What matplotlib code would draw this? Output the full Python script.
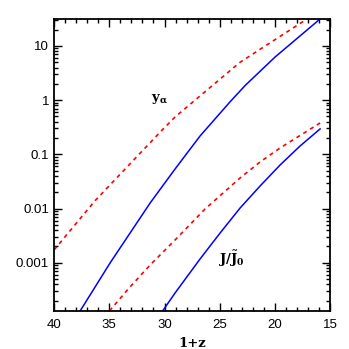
import matplotlib
matplotlib.use('Agg')
import matplotlib.pyplot as plt
import numpy as np
from matplotlib.ticker import MultipleLocator, LogLocator, NullFormatter, FixedLocator, FixedFormatter

# values: 1+z and log10 of the plotted quantity
z_ya_red = [40.0, 36.29, 31.30, 30.40, 29.04, 26.14, 24.06, 23.15, 17.08]
logya_red = [-2.764, -1.855, -0.784, -0.590, -0.310, 0.188, 0.545, 0.70, 1.5]

z_ya_blue = [37.64, 34.93, 31.30, 29.04, 26.78, 24.06, 22.70, 19.98, 15.91]
logya_blue = [-3.889, -3.004, -1.897, -1.269, -0.661, -0.030, 0.270, 0.797, 1.498]

z_J_red = [34.99, 33.12, 31.30, 29.04, 26.32, 23.15, 21.34, 19.53, 15.91]
logJ_red = [-3.889, -3.446, -3.041, -2.579, -2.007, -1.435, -1.140, -0.882, -0.421]

z_J_blue = [30.17, 29.04, 26.78, 24.96, 23.15, 21.34, 19.53, 17.72, 15.91]
logJ_blue = [-3.889, -3.557, -2.930, -2.450, -1.989, -1.583, -1.196, -0.845, -0.531]

yticks = [0.001, 0.01, 0.1, 1, 10]
ytick_labels = ['0.001', '0.01', '0.1', '1', '10']
xticks = [40, 35, 30, 25, 20, 15]

plt.rcParams['mathtext.fontset'] = 'dejavuserif'

fig = plt.figure(figsize=(3.49, 3.49), dpi=100)
ax = fig.add_axes([0.155, 0.109, 0.791, 0.837])

dash = (0, (2.4, 2.4))
ax.plot(z_ya_red, 10**np.array(logya_red), color='red', ls=dash, lw=1.2)
ax.plot(z_J_red, 10**np.array(logJ_red), color='red', ls=dash, lw=1.2)
ax.plot(z_ya_blue, 10**np.array(logya_blue), color='blue', lw=1.1)
ax.plot(z_J_blue, 10**np.array(logJ_blue), color='blue', lw=1.1)

ax.set_yscale('log')
ax.set_xlim(40, 15)
ax.set_ylim(10**-3.89, 10**1.5)

ax.xaxis.set_major_locator(FixedLocator(xticks))
ax.xaxis.set_minor_locator(MultipleLocator(1))
ax.yaxis.set_major_locator(FixedLocator(yticks))
ax.yaxis.set_major_formatter(FixedFormatter(ytick_labels))
ax.yaxis.set_minor_locator(LogLocator(base=10, subs=range(2, 10), numticks=20))
ax.yaxis.set_minor_formatter(NullFormatter())

ax.tick_params(which='both', direction='in', top=True, right=True, width=1.0,
               labelsize=9.5, labelfontfamily='Liberation Sans')
ax.tick_params(which='major', length=6)
ax.tick_params(which='minor', length=3)
ax.tick_params(axis='x', pad=6)
for s in ax.spines.values():
    s.set_linewidth(1.3)

ax.text(30.5, 1.05, r'$\mathbf{y_\alpha}$', fontsize=9.5, ha='center', va='center')
ax.text(23.97, 1.2e-3, r'$\mathbf{J/\tilde{J}_0}$', fontsize=9.5, ha='center', va='center')
ax.set_xlabel('1+z', fontsize=9.5, family='DejaVu Serif', fontweight='bold', labelpad=4)

fig.savefig('out.png', dpi=100)
